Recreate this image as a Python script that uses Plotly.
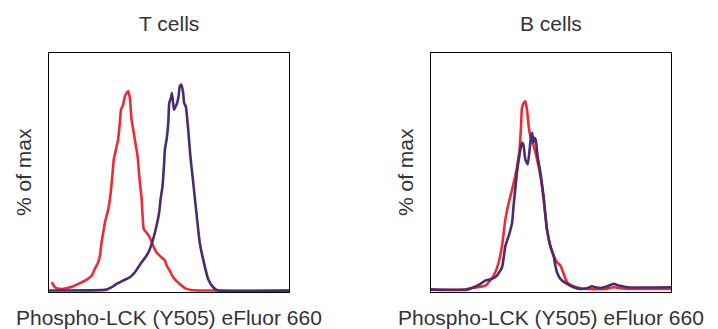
import plotly.graph_objects as go

# ---- data (x: fluorescence, % of axis width; y: % of max) ----
t_red_x = [1.1, 2.5, 4.6, 7.4, 10.1, 12.9, 15.7, 17.8, 19.1, 20.5, 21.2, 21.9, 22.6, 23.3, 24.7, 25.7, 26.5, 27.0, 27.9, 28.8, 29.5, 30.0, 30.9, 31.6, 32.3, 33.0, 33.7, 34.4, 35.1, 36.2, 36.9, 37.6, 38.6, 39.5, 40.6, 42.0, 43.4, 44.8, 46.9, 48.3, 49.0, 50.3, 51.7, 54.5, 57.3, 60.1, 68.4, 100]
t_red_y = [3.5, 1.4, 0.7, 1.0, 1.8, 3.1, 4.6, 6.3, 9.1, 11.9, 14.6, 20.2, 24.4, 28.6, 34.2, 41.1, 49.5, 55.1, 59.3, 63.5, 70.4, 76.0, 78.1, 81.6, 83.0, 83.7, 80.9, 71.8, 67.6, 60.7, 56.5, 48.1, 38.4, 25.8, 24.4, 22.3, 18.8, 16.0, 13.9, 12.6, 10.5, 8.4, 5.6, 2.8, 0.7, 0.1, 0, 0]

t_pur_x = [0, 24.0, 26.1, 28.2, 30.9, 33.7, 35.8, 37.2, 38.6, 40.6, 42.0, 43.4, 44.8, 45.9, 46.5, 47.3, 47.9, 48.3, 49.0, 49.7, 50.1, 50.8, 51.2, 51.7, 52.1, 52.8, 53.4, 54.0, 54.5, 55.2, 55.9, 56.3, 57.0, 58.0, 58.9, 60.1, 61.4, 62.8, 64.2, 66.3, 68.4, 70.5, 100]
t_pur_y = [0, 0.4, 1.4, 2.8, 4.2, 5.6, 7.7, 9.8, 11.9, 14.6, 17.4, 21.6, 27.2, 32.8, 38.4, 43.9, 52.3, 59.3, 63.5, 70.4, 78.8, 80.9, 83.0, 78.8, 76.0, 77.4, 78.8, 81.6, 85.8, 86.5, 83.0, 78.8, 77.4, 67.6, 56.5, 45.3, 32.8, 20.2, 13.2, 4.9, 1.4, 0, 0]

b_red_x = [0, 13.6, 16.4, 19.2, 22.6, 24.7, 26.8, 28.2, 29.6, 31.0, 32.4, 33.8, 35.1, 36.1, 36.9, 37.5, 37.9, 38.6, 39.3, 40.0, 40.7, 41.4, 42.8, 44.2, 45.6, 46.9, 48.3, 49.7, 51.1, 52.5, 53.9, 55.3, 56.7, 59.4, 62.2, 65.0, 73.3, 76.1, 78.9, 81.7, 100]
b_red_y = [0.4, 0.4, 1.0, 1.4, 2.1, 4.2, 7.7, 11.9, 18.8, 30.0, 37.0, 42.5, 48.1, 53.7, 59.3, 69.0, 76.7, 78.8, 79.5, 76.0, 69.0, 64.9, 60.7, 55.1, 48.1, 38.4, 25.8, 18.8, 14.6, 11.9, 10.5, 7.0, 3.5, 1.8, 1.0, 0.7, 0.7, 1.4, 1.0, 0.7, 0.7]

b_pur_x = [0, 15.0, 17.8, 20.6, 22.6, 25.4, 27.5, 29.6, 31.0, 32.4, 33.8, 34.4, 35.1, 35.8, 36.8, 37.5, 38.1, 38.6, 39.3, 40.3, 41.1, 41.7, 42.2, 42.6, 43.1, 43.6, 44.4, 45.6, 46.9, 48.3, 49.7, 51.1, 51.8, 52.5, 53.9, 56.7, 59.4, 62.2, 65.0, 67.1, 68.5, 70.6, 73.3, 76.1, 78.2, 81.7, 100]
b_pur_y = [0.4, 0.4, 1.4, 2.8, 4.2, 4.9, 6.3, 9.8, 18.8, 23.0, 28.6, 35.6, 42.5, 49.5, 56.5, 60.7, 62.1, 60.7, 55.1, 53.0, 59.3, 64.9, 66.2, 62.1, 64.2, 63.5, 56.5, 49.5, 39.7, 25.8, 18.8, 14.6, 10.5, 7.7, 4.9, 2.8, 1.4, 0.7, 1.0, 1.8, 1.4, 1.1, 1.7, 2.8, 2.1, 1.4, 1.4]

panel_titles = ["T cells", "B cells"]
x_title = "Phospho-LCK (Y505) eFluor 660"
y_title = "% of max"

RED = "#EC2B37"
PURPLE = "#4A2C6E"
FONT = "Liberation Sans"
TXT = "#333333"

fig = go.Figure()
line_style = dict(width=2.6, shape="spline", smoothing=0.5)
fig.add_trace(go.Scatter(x=t_red_x, y=t_red_y, mode="lines", line=dict(color=RED, **line_style), xaxis="x", yaxis="y"))
fig.add_trace(go.Scatter(x=t_pur_x, y=t_pur_y, mode="lines", line=dict(color=PURPLE, **line_style), xaxis="x", yaxis="y"))
fig.add_trace(go.Scatter(x=b_red_x, y=b_red_y, mode="lines", line=dict(color=RED, **line_style), xaxis="x2", yaxis="y2"))
fig.add_trace(go.Scatter(x=b_pur_x, y=b_pur_y, mode="lines", line=dict(color=PURPLE, **line_style), xaxis="x2", yaxis="y2"))

W, H = 718, 329
ydom = [(329 - 292) / H, (329 - 52.5) / H]
ax = dict(showline=True, mirror=True, linecolor="black", linewidth=1.4, showgrid=False,
          zeroline=False, showticklabels=False, ticks="", fixedrange=True)

fig.update_layout(
    width=W, height=H, margin=dict(l=0, r=0, t=0, b=0),
    paper_bgcolor="white", plot_bgcolor="white", showlegend=False,
    font=dict(family=FONT, color=TXT),
    xaxis=dict(domain=[49 / W, 289 / W], range=[0, 100], **ax),
    yaxis=dict(domain=ydom, range=[-0.6, 100], **ax),
    xaxis2=dict(domain=[431 / W, 671 / W], range=[0, 100], **ax),
    yaxis2=dict(domain=ydom, range=[-0.6, 100], anchor="x2", **ax),
)
fig.layout.yaxis.anchor = "x"
fig.layout.xaxis2.anchor = "y2"

for cx, ylx, title in [(169, 23, panel_titles[0]), (551, 405, panel_titles[1])]:
    fig.add_annotation(text=title, x=cx / W, y=1 - 23 / H, xref="paper", yref="paper",
                       showarrow=False, font=dict(size=21, family=FONT, color=TXT),
                       xanchor="center", yanchor="middle")
    fig.add_annotation(text=x_title, x=cx / W, y=1 - 317 / H, xref="paper", yref="paper",
                       showarrow=False, font=dict(size=21, family=FONT, color=TXT),
                       xanchor="center", yanchor="middle")
    fig.add_annotation(text=y_title, x=ylx / W, y=1 - 172 / H, xref="paper", yref="paper",
                       showarrow=False, textangle=-90, font=dict(size=21, family=FONT, color=TXT),
                       xanchor="center", yanchor="middle")

fig.write_html("out.html", config={"displayModeBar": False},
               post_script="document.body.style.margin='0px';document.body.style.overflow='hidden';")
